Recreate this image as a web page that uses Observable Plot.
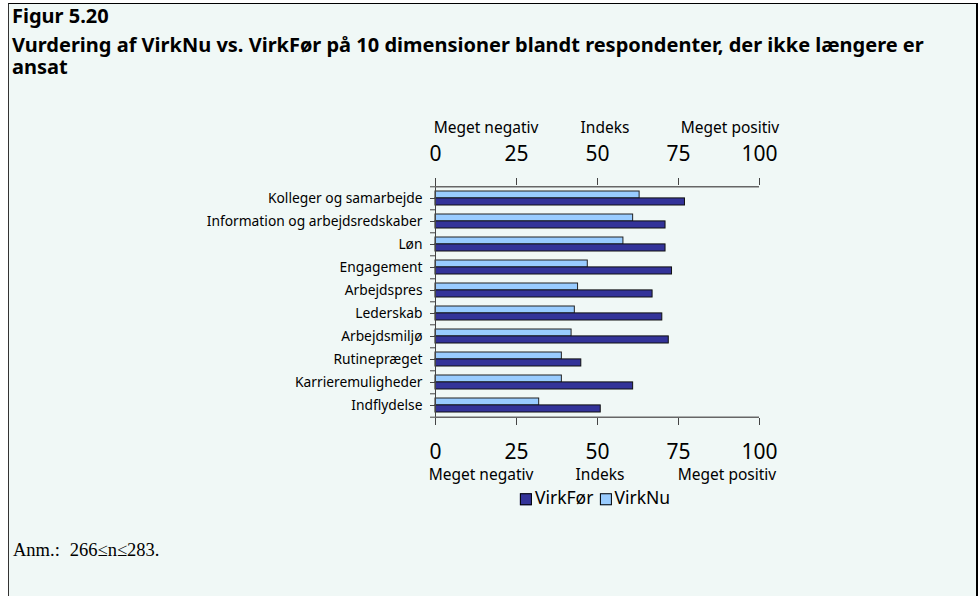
<!DOCTYPE html>
<html>
<head>
<meta charset="utf-8">
<script src="https://cdn.jsdelivr.net/npm/d3@7"></script>
<script src="https://cdn.jsdelivr.net/npm/@observablehq/plot@0.6"></script>
<style>
  html, body { margin: 0; padding: 0; background: #fff; width: 978px; height: 596px; overflow: hidden; }
  #panel { position: absolute; left: 8px; top: 3px; width: 967px; height: 600px; background: #f0f8f6;
           border-top: 1px solid #000; border-left: 1px solid #333; border-right: 2px solid #000; }
  .abs { position: absolute; white-space: nowrap; font-family: "Noto Sans", sans-serif; color: #000; line-height: 1; }
  .c { transform: translate(-50%, -50%); }
  .title { font-weight: bold; font-size: 20px; line-height: 20px; left: 12px; }
  .lab { font-size: 15.5px; }
  #chart { position: absolute; left: 0; top: 100px; }
  .sw { display: inline-block; width: 10px; height: 10px; border: 1px solid #000; vertical-align: -1px; margin-right: 3px; }
</style>
</head>
<body>
<div id="panel"></div>
<div class="abs title" style="top:6px;">Figur 5.20</div>
<div class="abs title" style="top:34.3px; line-height:21.5px;">Vurdering af VirkNu vs. VirkFør på 10 dimensioner blandt respondenter, der ikke længere er<br>ansat</div>

<div class="abs lab c" style="left:486px; top:128px;">Meget negativ</div>
<div class="abs lab c" style="left:605px; top:128px;">Indeks</div>
<div class="abs lab c" style="left:730px; top:128px;">Meget positiv</div>

<div id="chart"></div>

<div class="abs lab c" style="left:481px; top:475px;">Meget negativ</div>
<div class="abs lab c" style="left:600px; top:475px;">Indeks</div>
<div class="abs lab c" style="left:727px; top:475px;">Meget positiv</div>

<div id="legend" class="abs c" style="left:595px; top:498px; font-size:17.5px;"></div>

<div class="abs" style="left:13px; top:541px; font-family:'Liberation Serif', serif; font-size:18.5px;">Anm.:<span style="display:inline-block;width:10px"></span>266≤n≤283.</div>

<script>
const categories = ["Kolleger og samarbejde", "Information og arbejdsredskaber", "Løn", "Engagement", "Arbejdspres", "Lederskab", "Arbejdsmiljø", "Rutinepræget", "Karrieremuligheder", "Indflydelse"];
const virkNu   = [63, 61, 58, 47, 44, 43, 42, 39, 39, 32];
const virkFoer = [77, 71, 71, 73, 67, 70, 72, 45, 61, 51];
const xTicks = [0, 25, 50, 75, 100];
const seriesNames = ["VirkFør", "VirkNu"];
const seriesColors = ["#333399", "#99ccff"];

const data = categories.map((c, i) => ({cat: c, nu: virkNu[i], foer: virkFoer[i]}));

const W = 978, H = 420, mt = 84, mb = 102, ml = 435, mr = 219;
const pad = 0.41;
const step = (H - mt - mb) / categories.length;
const bw = step * (1 - pad);
const first = categories[0], last = categories[categories.length - 1];

const axisColor = "#444";
const chart = Plot.plot({
  width: W, height: H,
  marginTop: mt, marginBottom: mb, marginLeft: ml, marginRight: mr,
  style: {background: "transparent", fontFamily: "Noto Sans, sans-serif", color: "#000", overflow: "visible"},
  x: {domain: [0, 100]},
  y: {domain: categories, paddingInner: pad, paddingOuter: pad / 2},
  marks: [
    Plot.barX(data, {x: "nu", y: "cat", fill: seriesColors[1], stroke: "#222", strokeWidth: 1, insetBottom: bw / 2}),
    Plot.barX(data, {x: "foer", y: "cat", fill: seriesColors[0], stroke: "#111", strokeWidth: 1, insetTop: bw / 2}),
    Plot.ruleX([0], {stroke: axisColor}),
    Plot.ruleY([first], {dy: -step / 2, stroke: "#666", strokeWidth: 1.5}),
    Plot.ruleY([last], {dy: step / 2, stroke: "#666", strokeWidth: 1.5}),
    Plot.axisX({anchor: "top", ticks: xTicks, tickSize: 7, tickPadding: 17, fontSize: 21, label: null, stroke: axisColor, fill: "#000"}),
    Plot.axisX({anchor: "bottom", ticks: xTicks, tickSize: 7, tickPadding: 19, fontSize: 21, label: null, stroke: axisColor, fill: "#000"}),
    Plot.axisY({tickSize: 5, tickPadding: 8, fontSize: 13.8, label: null, stroke: axisColor, fill: "#000"}),
    Plot.axisY({tickSize: 5, tickFormat: () => "", label: null, dy: -step / 2, stroke: axisColor}),
    Plot.axisY({ticks: [last], tickSize: 5, tickFormat: () => "", label: null, dy: step / 2, stroke: axisColor})
  ]
});
document.getElementById("chart").appendChild(chart);

const legend = document.getElementById("legend");
seriesNames.forEach((n, i) => {
  const s = document.createElement("span");
  s.style.marginRight = i === 0 ? "6px" : "0";
  s.innerHTML = `<span class="sw" style="background:${seriesColors[i]}"></span>${n}`;
  legend.appendChild(s);
});
</script>
</body>
</html>
